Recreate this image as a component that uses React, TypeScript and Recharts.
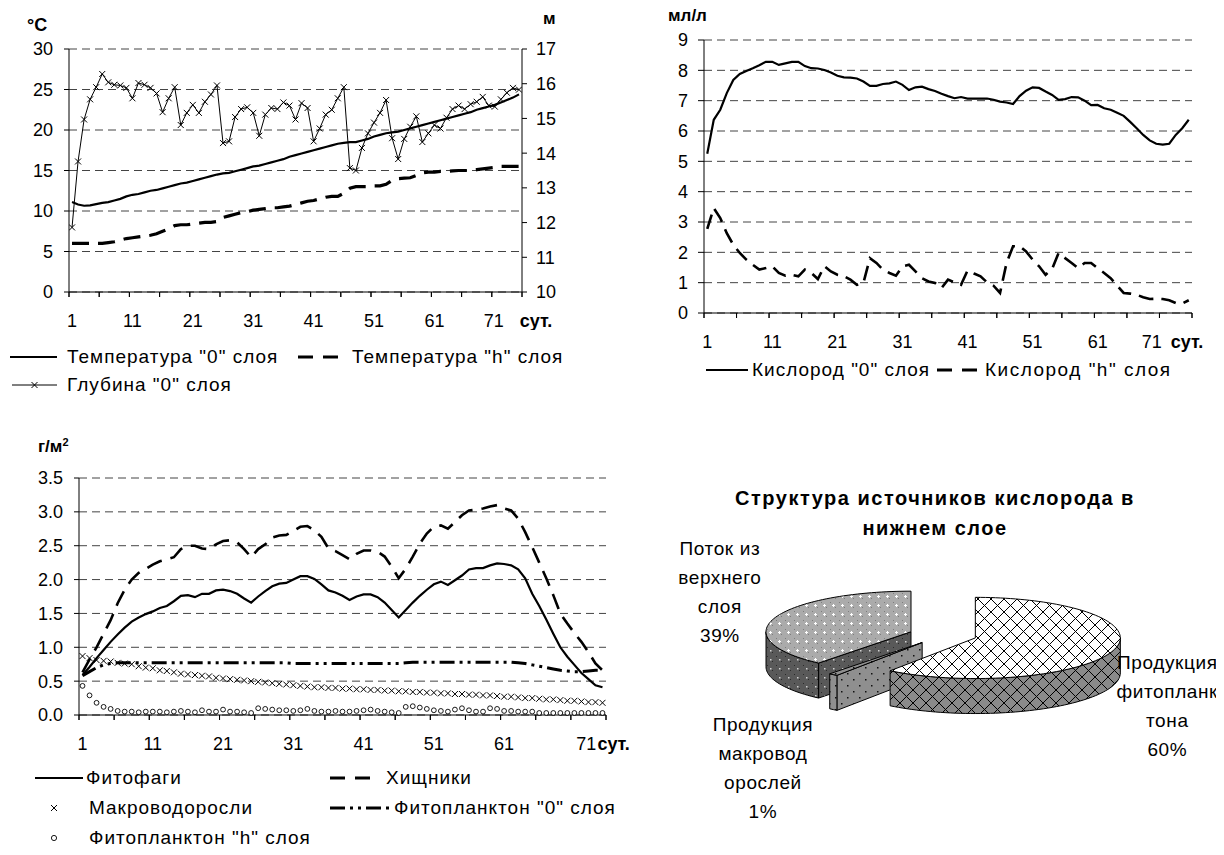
import React from "react";
import { LineChart, Line, XAxis, YAxis, CartesianGrid, PieChart, Pie, Cell } from "recharts";

const FONT = '"Liberation Sans", Arial, sans-serif';

// ---- categories / ticks ----
const days = Array.from({ length: 75 }, (_, i) => i + 1);
const dayLabels = [1, 11, 21, 31, 41, 51, 61, 71];
const dayMarks = [0.5, 5.5, 10.5, 15.5, 20.5, 25.5, 30.5, 35.5, 40.5, 45.5, 50.5, 55.5, 60.5, 65.5, 70.5, 75.5];
const unitDays = "сут.";
const tempTicks = [0, 5, 10, 15, 20, 25, 30];
const depthTicks = [10, 11, 12, 13, 14, 15, 16, 17];
const oxyTicks = [0, 1, 2, 3, 4, 5, 6, 7, 8, 9];
const bioTicks = [0, 0.5, 1, 1.5, 2, 2.5, 3, 3.5];

// ---- temperature, °C ----
const tempTop = [
  11.1, 10.8, 10.65, 10.7, 10.85, 11.0, 11.1, 11.3, 11.5, 11.8,
  12.0, 12.1, 12.3, 12.5, 12.6, 12.8, 13.0, 13.2, 13.4, 13.5,
  13.7, 13.9, 14.1, 14.3, 14.5, 14.65, 14.7, 14.9, 15.1, 15.3,
  15.5, 15.6, 15.8, 16.0, 16.2, 16.4, 16.7, 16.9, 17.1, 17.3,
  17.5, 17.7, 17.9, 18.1, 18.3, 18.4, 18.5, 18.5, 18.7, 18.9,
  19.2, 19.4, 19.6, 19.7, 19.8, 20.0, 20.2, 20.4, 20.6, 20.8,
  21.0, 21.2, 21.4, 21.6, 21.8, 22.0, 22.2, 22.5, 22.7, 22.9,
  23.1, 23.4, 23.7, 24.0, 24.4,
];
const tempBottom = [
  6.0, 6.0, 6.0, 6.0, 6.0, 6.0, 6.1, 6.2, 6.4, 6.6,
  6.7, 6.8, 6.9, 7.0, 7.2, 7.5, 7.8, 8.2, 8.3, 8.3,
  8.4, 8.5, 8.6, 8.6, 8.7, 9.2, 9.4, 9.6, 9.8, 9.9,
  10.1, 10.2, 10.3, 10.4, 10.4, 10.5, 10.6, 10.8, 11.0, 11.2,
  11.3, 11.5, 11.7, 11.8, 11.8, 12.2, 12.8, 13.0, 13.0, 13.0,
  13.1, 13.1, 13.3, 13.8, 14.0, 14.05, 14.1, 14.4, 14.7, 14.8,
  14.8, 14.9, 14.9, 14.95, 15.0, 15.0, 15.0, 15.1, 15.2, 15.3,
  15.4, 15.5, 15.5, 15.5, 15.5,
];
// ---- depth of "0" layer, m ----
const depthTop = [
  11.86, 13.76, 14.97, 15.55, 15.9, 16.28, 16.04, 15.97, 15.95, 15.88,
  15.58, 16.02, 15.97, 15.88, 15.72, 15.18, 15.58, 15.9, 14.81, 15.16,
  15.39, 15.16, 15.48, 15.69, 15.95, 14.29, 14.34, 15.04, 15.27, 15.32,
  15.16, 14.5, 15.11, 15.3, 15.27, 15.46, 15.37, 14.97, 15.44, 15.3,
  14.34, 14.71, 15.11, 15.25, 15.58, 15.9, 13.57, 13.5, 14.15, 14.57,
  14.88, 15.16, 15.53, 14.43, 13.83, 14.41, 14.76, 15.06, 14.32, 14.57,
  14.81, 14.71, 15.02, 15.27, 15.37, 15.27, 15.41, 15.48, 15.62, 15.37,
  15.34, 15.55, 15.74, 15.88, 15.83,
];

// ---- oxygen, ml/l ----
const oxyTop = [
  5.25, 6.37, 6.7, 7.25, 7.68, 7.88, 7.98, 8.07, 8.17, 8.28,
  8.28, 8.18, 8.23, 8.28, 8.28, 8.14, 8.07, 8.06, 8.01, 7.93,
  7.82, 7.77, 7.76, 7.73, 7.63, 7.49, 7.49, 7.55, 7.57, 7.63,
  7.52, 7.35, 7.44, 7.46, 7.38, 7.32, 7.23, 7.15, 7.08, 7.12,
  7.07, 7.07, 7.07, 7.07, 7.03, 6.97, 6.94, 6.89, 7.15, 7.33,
  7.44, 7.42, 7.3, 7.19, 7.03, 7.05, 7.12, 7.11, 7.0, 6.85,
  6.86, 6.75, 6.7, 6.6, 6.5, 6.3, 6.09, 5.87, 5.69, 5.58,
  5.55, 5.58, 5.87, 6.09, 6.37,
];
const oxyBottom = [
  2.77, 3.46, 3.13, 2.63, 2.25, 1.98, 1.76, 1.59, 1.43, 1.48,
  1.54, 1.32, 1.23, 1.26, 1.21, 1.43, 1.32, 1.12, 1.54, 1.37,
  1.26, 1.21, 1.1, 0.93, 0.99, 1.81, 1.65, 1.43, 1.32, 1.23,
  1.54, 1.59, 1.37, 1.15, 1.04, 0.99, 0.82, 1.1, 1.01, 0.93,
  1.4, 1.3, 1.21, 1.01, 0.9, 0.66, 1.65, 2.2, 2.2, 2.03,
  1.76, 1.54, 1.26, 1.45, 1.98, 1.81, 1.65, 1.48, 1.65, 1.65,
  1.48, 1.32, 1.15, 0.9, 0.66, 0.64, 0.6, 0.52, 0.46, 0.47,
  0.46, 0.42, 0.33, 0.31, 0.42,
];

// ---- biomass, g/m2 ----
const phytophages = [
  0.59, 0.71, 0.84, 0.96, 1.08, 1.19, 1.29, 1.38, 1.44, 1.49,
  1.53, 1.58, 1.61, 1.68, 1.76, 1.77, 1.74, 1.79, 1.79, 1.84,
  1.85, 1.83, 1.79, 1.72, 1.66, 1.75, 1.83, 1.9, 1.94, 1.95,
  2.0, 2.05, 2.05, 2.01, 1.93, 1.84, 1.81, 1.76, 1.7, 1.75,
  1.78, 1.78, 1.74, 1.66, 1.55, 1.44, 1.55, 1.66, 1.76, 1.85,
  1.93, 1.97, 1.92, 1.99, 2.06, 2.15, 2.17, 2.17, 2.21, 2.24,
  2.23, 2.21, 2.15, 2.02, 1.79, 1.61, 1.41, 1.2, 1.0, 0.86,
  0.74, 0.62, 0.53, 0.44, 0.41,
];
const predators = [
  0.63, 0.82, 1.0, 1.2, 1.4, 1.65, 1.85, 2.0, 2.1, 2.16,
  2.22, 2.27, 2.3, 2.33, 2.45, 2.5, 2.5, 2.46, 2.45, 2.52,
  2.57, 2.58, 2.55, 2.45, 2.33, 2.45, 2.52, 2.62, 2.65, 2.66,
  2.72, 2.78, 2.79, 2.73, 2.63, 2.46, 2.42, 2.36, 2.3, 2.38,
  2.43, 2.43, 2.41, 2.34, 2.19, 2.02, 2.16, 2.34, 2.53, 2.68,
  2.78, 2.8, 2.75, 2.85, 2.95, 3.02, 3.03, 3.05, 3.08, 3.1,
  3.05, 3.02, 2.9, 2.7, 2.48, 2.25, 2.02, 1.77, 1.5, 1.35,
  1.21, 1.08, 0.93, 0.76, 0.66,
];
const macroalgae = [
  0.87, 0.84, 0.81, 0.8, 0.79, 0.77, 0.76, 0.75, 0.72, 0.7,
  0.69, 0.66, 0.65, 0.63, 0.61, 0.6, 0.59, 0.58, 0.57, 0.55,
  0.54, 0.53, 0.52, 0.51, 0.5, 0.49, 0.48, 0.47, 0.46, 0.45,
  0.44, 0.43, 0.42, 0.41, 0.41, 0.4, 0.4, 0.39, 0.39, 0.38,
  0.38, 0.37, 0.37, 0.36, 0.36, 0.35, 0.35, 0.34, 0.34, 0.33,
  0.33, 0.32, 0.32, 0.31, 0.31, 0.3, 0.3, 0.29, 0.29, 0.28,
  0.27, 0.27, 0.26, 0.25, 0.25, 0.24, 0.23, 0.23, 0.22, 0.21,
  0.21, 0.2, 0.19, 0.19, 0.18,
];
const phytoTop = [
  0.58, 0.64, 0.7, 0.74, 0.76, 0.77, 0.77, 0.77, 0.77, 0.77,
  0.77, 0.77, 0.77, 0.77, 0.77, 0.77, 0.77, 0.77, 0.77, 0.77,
  0.77, 0.77, 0.77, 0.77, 0.77, 0.77, 0.77, 0.77, 0.77, 0.77,
  0.76, 0.76, 0.76, 0.76, 0.76, 0.76, 0.76, 0.76, 0.76, 0.76,
  0.76, 0.76, 0.76, 0.76, 0.76, 0.76, 0.77, 0.78, 0.78, 0.78,
  0.78, 0.78, 0.78, 0.78, 0.78, 0.78, 0.78, 0.78, 0.78, 0.78,
  0.78, 0.78, 0.77, 0.76, 0.74, 0.72, 0.7, 0.68, 0.66, 0.65,
  0.64, 0.64, 0.65, 0.66, 0.66,
];
const phytoBottom = [
  0.43, 0.29, 0.18, 0.12, 0.09, 0.06, 0.05, 0.05, 0.04, 0.05,
  0.05, 0.05, 0.04, 0.05, 0.06, 0.05, 0.04, 0.07, 0.05, 0.05,
  0.08, 0.05, 0.05, 0.04, 0.03, 0.1, 0.09, 0.08, 0.07, 0.07,
  0.06, 0.07, 0.09, 0.06, 0.05, 0.05, 0.06, 0.05, 0.05, 0.06,
  0.07, 0.08, 0.06, 0.05, 0.04, 0.03, 0.12, 0.13, 0.11, 0.09,
  0.07, 0.06, 0.05, 0.08, 0.1, 0.07, 0.05, 0.05, 0.1, 0.09,
  0.06, 0.06, 0.05, 0.05, 0.05, 0.03, 0.03, 0.03, 0.03, 0.03,
  0.03, 0.03, 0.03, 0.03, 0.03,
];

// ---- pie ----
const pieNames = ["Поток из верхнего слоя", "Продукция макроводорослей", "Продукция фитопланктона"];
const pieValues = [39, 1, 60];
const pieLabelLines = [
  ["Поток из", "верхнего", "слоя"],
  ["Продукция", "макровод", "орослей"],
  ["Продукция", "фитопланк", "тона"],
];

const tempData = days.map((day, i) => ({ day, t0: tempTop[i], th: tempBottom[i], depth: depthTop[i] }));
const oxyData = days.map((day, i) => ({ day, o0: oxyTop[i], oh: oxyBottom[i] }));
const bioData = days.map((day, i) => ({
  day,
  phytophages: phytophages[i],
  predators: predators[i],
  macro: macroalgae[i],
  phyto0: phytoTop[i],
  phytoH: phytoBottom[i],
}));
const pieData = pieNames.map((name, i) => ({ name, value: pieValues[i] }));

const tickStyle = { fontSize: 18, fill: "#000" };
const GRID = "#444";
const X_TICK = 5;
const X_MARGIN = 17;

// tick marks sit on category boundaries (x.5); the label of a day is shifted half a day to its centre
function DayTick(props: any) {
  const { x, y, payload, dayPx, lastDx = 0, sutDx = 20 } = props;
  const day = payload.value + 0.5;
  const axisY = y - X_MARGIN - X_TICK;
  const mark = <line x1={x} x2={x} y1={axisY} y2={axisY + X_TICK} stroke="#000" strokeWidth={1} />;
  if (!dayLabels.includes(day)) return <g>{mark}</g>;
  const lx = x + dayPx / 2;
  const isLast = day === dayLabels[dayLabels.length - 1];
  return (
    <g>
      {mark}
      <text x={lx + (isLast ? lastDx : 0)} y={y} dy="0.71em" textAnchor="middle" fontSize={18} fill="#000">
        {day}
      </text>
      {isLast && (
        <text x={lx + sutDx} y={y} dy="0.71em" textAnchor="start" fontSize={18} fontWeight="bold" fill="#000">
          {unitDays}
        </text>
      )}
    </g>
  );
}

function dayAxis(plotW: number, lastDx: number, sutDx: number) {
  const dayPx = plotW / days.length;
  return (
    <XAxis
      xAxisId="d"
      dataKey="day"
      type="number"
      domain={[0.5, 75.5]}
      ticks={dayMarks}
      allowDataOverflow
      interval={0}
      height={30}
      tickSize={X_TICK}
      tickMargin={X_MARGIN}
      stroke="#000"
      tick={(p: any) => <DayTick {...p} dayPx={dayPx} lastDx={lastDx} sutDx={sutDx} />}
    />
  );
}

const crossDot = (s: number) => (p: any) => {
  const { cx, cy, index } = p;
  if (cx == null || cy == null) return <g key={index} />;
  return (
    <path
      key={index}
      d={`M${cx - s},${cy - s}L${cx + s},${cy + s}M${cx - s},${cy + s}L${cx + s},${cy - s}`}
      stroke="#000"
      strokeWidth={1}
      fill="none"
    />
  );
};
const circleDot = (p: any) => {
  if (p.cx == null || p.cy == null) return <g key={p.index} />;
  return <circle key={p.index} cx={p.cx} cy={p.cy} r={2.4} stroke="#000" strokeWidth={0.9} fill="#fff" />;
};

// ---- 3D pie slice ----
const RAD = Math.PI / 180;
const TILT = 0.28;
const DEPTH = 35;
const EXPLODE = 34;
const sliceStyles = [
  { top: "url(#pTopDots)", side: "url(#pSideDots)" },
  { top: "url(#pMacro)", side: "url(#pMacro)" },
  { top: "url(#pLattice)", side: "url(#pLatticeSide)" },
];

function Slice3D(props: any) {
  const { cx, cy, outerRadius, startAngle, endAngle, midAngle } = props;
  const name = props.name ?? props.payload?.name;
  const idx = Math.max(0, pieNames.indexOf(name));
  const st = sliceStyles[idx];
  const rx = outerRadius;
  const ry = outerRadius * TILT;
  const m = midAngle * RAD;
  const ox = cx + Math.cos(m) * EXPLODE;
  const oy = cy - Math.sin(m) * EXPLODE * TILT;
  const pt = (a: number, dz = 0) => [ox + rx * Math.cos(a * RAD), oy - ry * Math.sin(a * RAD) + dz];
  const arc = (a0: number, a1: number, dz: number) => {
    const n = Math.max(2, Math.ceil(Math.abs(a1 - a0) / 2));
    const out: number[][] = [];
    for (let k = 0; k <= n; k++) out.push(pt(a0 + ((a1 - a0) * k) / n, dz));
    return out;
  };
  const toPath = (pts: number[][]) => "M" + pts.map((q) => `${q[0].toFixed(2)},${q[1].toFixed(2)}`).join("L") + "Z";

  const walls: React.ReactNode[] = [];
  const radial = (a: number, key: string) => {
    const p = pt(a);
    walls.push(
      <path key={key} d={toPath([[ox, oy], p, [p[0], p[1] + DEPTH], [ox, oy + DEPTH]])} fill={st.side} stroke="#000" strokeWidth={1} />
    );
  };
  if (Math.cos(startAngle * RAD) > 0.001) radial(startAngle, "ws");
  if (Math.cos(endAngle * RAD) < -0.001) radial(endAngle, "we");
  for (let k = -1; k <= 1; k++) {
    const lo = Math.max(startAngle, 180 + 360 * k);
    const hi = Math.min(endAngle, 360 + 360 * k);
    if (hi > lo) {
      const pts = [...arc(lo, hi, 0), ...arc(hi, lo, DEPTH)];
      walls.push(<path key={`wo${k}`} d={toPath(pts)} fill={st.side} stroke="#000" strokeWidth={1} />);
    }
  }
  const topPts = [[ox, oy], ...arc(startAngle, endAngle, 0)];
  return (
    <g>
      {walls}
      <path d={toPath(topPts)} fill={st.top} stroke="#000" strokeWidth={1} />
    </g>
  );
}

const renderPieLabel = (p: any) => {
  const { cx, cy, midAngle, value, name } = p;
  const i = Math.max(0, pieNames.indexOf(name));
  const m = midAngle * RAD;
  const c = Math.cos(m);
  const s = Math.sin(m);
  const x = cx + Math.sign(c) * Math.sqrt(Math.abs(c)) * 230;
  const y = s > 0 ? cy - Math.sqrt(s) * 75 : cy + 31 + 129 * -s;
  const lines = [...pieLabelLines[i], `${value}%`];
  const lh = 29;
  return (
    <text
      key={name}
      x={x}
      y={y - ((lines.length - 1) * lh) / 2}
      textAnchor="middle"
      dominantBaseline="central"
      fontSize={19}
      letterSpacing={0.6}
      fill="#000"
    >
      {lines.map((l, k) => (
        <tspan key={k} x={x} dy={k === 0 ? 0 : lh}>
          {l}
        </tspan>
      ))}
    </text>
  );
};

// ---- legend helpers ----
function Sample({ w, kind }: { w: number; kind: string }) {
  const y = 12;
  const c = w / 2;
  return (
    <svg width={w} height={24} style={{ display: "block", overflow: "visible" }}>
      {kind === "solid" && <line x1={0} x2={w} y1={y} y2={y} stroke="#000" strokeWidth={2} />}
      {kind === "dash" && <line x1={0} x2={w} y1={y} y2={y} stroke="#000" strokeWidth={3} strokeDasharray="15 10" />}
      {kind === "dashdot" && <line x1={0} x2={w} y1={y} y2={y} stroke="#000" strokeWidth={3} strokeDasharray="15 5 3 5 3 5" />}
      {kind === "crossLine" && (
        <g>
          <line x1={0} x2={w} y1={y} y2={y} stroke="#000" strokeWidth={1} />
          <path d={`M${c - 3},${y - 3}L${c + 3},${y + 3}M${c - 3},${y + 3}L${c + 3},${y - 3}`} stroke="#000" />
        </g>
      )}
      {kind === "cross" && <path d={`M${c - 3},${y - 3}L${c + 3},${y + 3}M${c - 3},${y + 3}L${c + 3},${y - 3}`} stroke="#000" />}
      {kind === "circle" && <circle cx={c} cy={y} r={2.6} stroke="#000" strokeWidth={0.9} fill="#fff" />}
    </svg>
  );
}

function LegendItem({ x, y, w, textX, kind, text, ls = 1 }: { x: number; y: number; w: number; textX: number; kind: string; text: string; ls?: number }) {
  return (
    <>
      <div style={{ position: "absolute", left: x, top: y - 12 }}>
        <Sample w={w} kind={kind} />
      </div>
      <div style={{ position: "absolute", left: textX, top: y - 12, height: 24, lineHeight: "24px", fontSize: 19, letterSpacing: ls, whiteSpace: "nowrap" }}>
        {text}
      </div>
    </>
  );
}

const unitStyle: React.CSSProperties = { position: "absolute", fontWeight: "bold", fontSize: 17, lineHeight: 1, whiteSpace: "nowrap" };

export default function App() {
  return (
    <div style={{ position: "relative", width: 1224, height: 855, margin: -8, background: "#fff", fontFamily: FONT, color: "#000", overflow: "hidden" }}>
      <svg width={0} height={0} style={{ position: "absolute" }}>
        <defs>
          <pattern id="pTopDots" width={9} height={9} patternUnits="userSpaceOnUse">
            <rect width={9} height={9} fill="#ababab" />
            <rect x={1} y={1} width={1} height={1} fill="#7d7d7d" />
            <rect x={6} y={6} width={1} height={1} fill="#7d7d7d" />
            <rect x={3} y={4} width={3} height={1} fill="#fff" />
            <rect x={4} y={3} width={1} height={3} fill="#fff" />
          </pattern>
          <pattern id="pSideDots" width={9} height={9} patternUnits="userSpaceOnUse">
            <rect width={9} height={9} fill="#595959" />
            <rect x={1} y={1} width={1} height={1} fill="#2a2a2a" />
            <rect x={6} y={6} width={1} height={1} fill="#2a2a2a" />
            <rect x={4} y={4} width={1.5} height={1.5} fill="#d0d0d0" />
          </pattern>
          <pattern id="pMacro" width={12} height={12} patternUnits="userSpaceOnUse">
            <rect width={12} height={12} fill="#8f8f8f" />
            <rect x={3} y={3} width={1.5} height={1.5} fill="#111" />
            <rect x={9} y={9} width={1.5} height={1.5} fill="#111" />
          </pattern>
          <pattern id="pLattice" width={13} height={13} patternUnits="userSpaceOnUse">
            <rect width={13} height={13} fill="#fff" />
            <path d="M0,0L13,13M13,0L0,13" stroke="#000" strokeWidth={1} />
          </pattern>
          <pattern id="pLatticeSide" width={13} height={13} patternUnits="userSpaceOnUse">
            <rect width={13} height={13} fill="#8a8a8a" />
            <path d="M0,0L13,13M13,0L0,13" stroke="#000" strokeWidth={1} />
          </pattern>
        </defs>
      </svg>

      {/* ---- temperature / depth ---- */}
      <div style={{ ...unitStyle, left: 27, top: 16, fontSize: 18 }}>°C</div>
      <div style={{ ...unitStyle, left: 543, top: 10 }}>м</div>
      <div style={{ position: "absolute", left: 0, top: 0 }}>
        <LineChart width={600} height={330} data={tempData} margin={{ top: 49, right: 18, bottom: 8, left: 0 }}>
          <CartesianGrid yAxisId="t" xAxisId="d" vertical={false} stroke={GRID} strokeDasharray="8 5" />
          {dayAxis(453, -1, 25)}
          <YAxis yAxisId="t" domain={[0, 30]} ticks={tempTicks} width={69} tickSize={5} tickMargin={11} stroke="#000" tick={tickStyle} interval={0} />
          <YAxis yAxisId="m" orientation="right" domain={[10, 17]} ticks={depthTicks} width={60} tickSize={5} tickMargin={9} stroke="#000" tick={tickStyle} interval={0} />
          <Line xAxisId="d" yAxisId="t" dataKey="t0" type="linear" stroke="#000" strokeWidth={2.2} dot={false} isAnimationActive={false} />
          <Line xAxisId="d" yAxisId="t" dataKey="th" type="linear" stroke="#000" strokeWidth={3.2} strokeDasharray="17 9" dot={false} isAnimationActive={false} />
          <Line xAxisId="d" yAxisId="m" dataKey="depth" type="linear" stroke="#000" strokeWidth={1} dot={crossDot(3)} isAnimationActive={false} />
        </LineChart>
      </div>
      <LegendItem x={10} y={357} w={47} textX={67} kind="solid" text={'Температура "0" слоя'} />
      <LegendItem x={298} y={357} w={44} textX={352} kind="dash" text={'Температура "h" слоя'} />
      <LegendItem x={12} y={385} w={45} textX={67} kind="crossLine" text={'Глубина "0" слоя'} />

      {/* ---- oxygen ---- */}
      <div style={{ ...unitStyle, left: 668, top: 7 }}>мл/л</div>
      <div style={{ position: "absolute", left: 620, top: 0 }}>
        <LineChart width={590} height={360} data={oxyData} margin={{ top: 40, right: 18, bottom: 17, left: 0 }}>
          <CartesianGrid yAxisId="o" xAxisId="d" vertical={false} stroke={GRID} strokeDasharray="8 5" />
          {dayAxis(488, -11, 8)}
          <YAxis yAxisId="o" domain={[0, 9]} ticks={oxyTicks} width={84} tickSize={6} tickMargin={10} stroke="#000" tick={tickStyle} interval={0} />
          <YAxis yAxisId="border" orientation="right" domain={[0, 9]} width={0} tick={false} tickLine={false} axisLine={{ stroke: "#999" }} />
          <Line xAxisId="d" yAxisId="o" dataKey="o0" type="linear" stroke="#000" strokeWidth={2.2} dot={false} isAnimationActive={false} />
          <Line xAxisId="d" yAxisId="o" dataKey="oh" type="linear" stroke="#000" strokeWidth={2.6} strokeDasharray="15 8" dot={false} isAnimationActive={false} />
        </LineChart>
      </div>
      <LegendItem x={706} y={370} w={42} textX={752} kind="solid" text={'Кислород "0" слоя'} />
      <LegendItem x={937} y={370} w={40} textX={985} kind="dash" text={'Кислород "h" слоя'} ls={1.5} />

      {/* ---- biomass ---- */}
      <div style={{ ...unitStyle, left: 38, top: 437 }}>
        г/м<sup style={{ fontSize: 11, verticalAlign: 6 }}>2</sup>
      </div>
      <div style={{ position: "absolute", left: 0, top: 420 }}>
        <LineChart width={640} height={340} data={bioData} margin={{ top: 58, right: 34, bottom: 15, left: 0 }}>
          <CartesianGrid yAxisId="b" xAxisId="d" vertical={false} stroke={GRID} strokeDasharray="8 5" />
          {dayAxis(527, 12, 23)}
          <YAxis yAxisId="b" domain={[0, 3.5]} ticks={bioTicks} width={79} tickSize={5} tickMargin={11} stroke="#000" tick={tickStyle} interval={0} tickFormatter={(v: number) => v.toFixed(1)} />
          <Line xAxisId="d" yAxisId="b" dataKey="phyto0" type="linear" stroke="#000" strokeWidth={3} strokeDasharray="15 5 3 5 3 5" dot={false} isAnimationActive={false} />
          <Line xAxisId="d" yAxisId="b" dataKey="macro" type="linear" stroke="none" dot={crossDot(3)} isAnimationActive={false} />
          <Line xAxisId="d" yAxisId="b" dataKey="phytoH" type="linear" stroke="none" dot={circleDot} isAnimationActive={false} />
          <Line xAxisId="d" yAxisId="b" dataKey="predators" type="linear" stroke="#000" strokeWidth={2.6} strokeDasharray="16 9" dot={false} isAnimationActive={false} />
          <Line xAxisId="d" yAxisId="b" dataKey="phytophages" type="linear" stroke="#000" strokeWidth={2.2} dot={false} isAnimationActive={false} />
        </LineChart>
      </div>
      <LegendItem x={35} y={778} w={48} textX={86} kind="solid" text="Фитофаги" />
      <LegendItem x={330} y={778} w={43} textX={386} kind="dash" text="Хищники" />
      <LegendItem x={44} y={808} w={20} textX={89} kind="cross" text="Макроводоросли" />
      <LegendItem x={330} y={808} w={62} textX={394} kind="dashdot" text={'Фитопланктон "0" слоя'} />
      <LegendItem x={44} y={838} w={20} textX={89} kind="circle" text={'Фитопланктон "h" слоя'} />

      {/* ---- pie ---- */}
      <div
        style={{
          position: "absolute",
          left: 680,
          top: 483,
          width: 510,
          textAlign: "center",
          fontWeight: "bold",
          fontSize: 20,
          letterSpacing: 1.5,
          lineHeight: "30px",
        }}
      >
        Структура источников кислорода в
        <br />
        нижнем слое
      </div>
      <div style={{ position: "absolute", left: 640, top: 430 }}>
        <PieChart width={584} height={400}>
          <Pie
            data={pieData}
            dataKey="value"
            nameKey="name"
            cx={298}
            cy={200}
            outerRadius={145}
            startAngle={90}
            endAngle={450}
            stroke="none"
            isAnimationActive={false}
            shape={Slice3D}
            activeShape={Slice3D}
            inactiveShape={Slice3D}
            label={renderPieLabel}
            labelLine={false}
          >
            {pieData.map((d) => (
              <Cell key={d.name} fill="none" />
            ))}
          </Pie>
        </PieChart>
      </div>
    </div>
  );
}
